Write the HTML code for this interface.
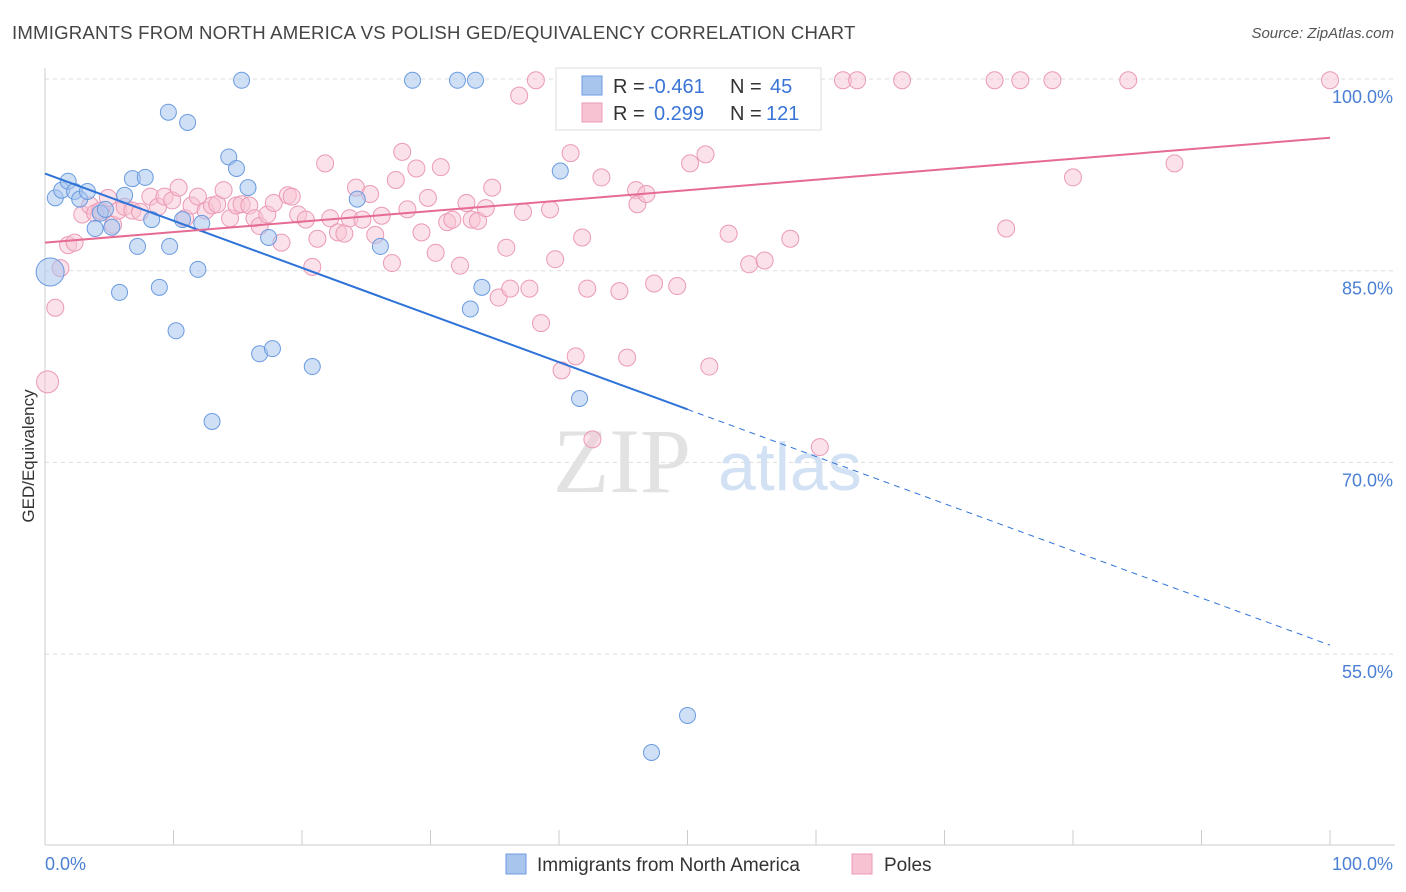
<!DOCTYPE html>
<html><head><meta charset="utf-8"><style>
body{margin:0;background:#fff;font-family:"Liberation Sans",sans-serif;}
#wrap{position:relative;width:1406px;height:892px;overflow:hidden;}
.t{position:absolute;white-space:nowrap;}
</style></head><body>
<div id="wrap">
<div class="t" style="left:12px;top:22px;font-size:18.6px;color:#444;letter-spacing:0.2px;">IMMIGRANTS FROM NORTH AMERICA VS POLISH GED/EQUIVALENCY CORRELATION CHART</div>
<div class="t" style="right:12px;top:25px;font-size:15px;color:#555;font-style:italic;">Source: ZipAtlas.com</div>
<svg id="svg" width="1406" height="892" style="position:absolute;left:0;top:0"></svg>
</div>
<script>
const blueX=[0.4,0.8,1.3,1.8,2.3,2.7,3.3,3.9,4.3,4.7,5.2,5.8,6.2,6.8,7.2,7.8,8.3,8.9,9.6,9.7,10.2,10.7,11.1,11.9,12.2,13.0,14.3,14.9,15.3,15.8,16.7,17.4,17.7,20.8,24.3,26.1,28.6,32.1,33.5,33.1,34.0,40.1,41.6,50.0,47.2];
const blueY=[84.9,90.7,91.3,92.0,91.2,90.6,91.2,88.3,89.5,89.8,88.4,83.3,90.9,92.2,86.9,92.3,89.0,83.7,97.4,86.9,80.3,89.0,96.6,85.1,88.7,73.2,93.9,93.0,99.9,91.5,78.5,87.6,78.9,77.5,90.6,86.9,99.9,99.9,99.9,82.0,83.7,92.8,75.0,50.2,47.3];
const pinkX=[0.2,0.8,1.2,1.8,2.3,2.9,3.5,3.9,4.3,4.9,5.3,5.7,6.2,6.8,7.4,8.2,8.8,9.3,9.9,10.4,10.9,11.4,11.9,12.5,13.0,13.4,13.9,14.4,14.9,15.3,15.9,16.3,16.7,17.3,17.8,18.4,18.9,19.2,19.7,20.3,20.8,21.2,21.8,22.2,22.8,23.3,23.7,24.2,24.7,25.3,25.7,26.2,27.0,27.3,27.8,28.2,28.9,29.3,29.8,30.4,30.8,31.3,31.7,32.3,32.8,33.2,33.7,34.3,34.8,35.3,35.9,36.2,36.9,37.2,37.7,38.2,38.6,39.3,39.7,40.2,40.9,41.3,41.8,42.2,42.6,43.3,44.7,45.3,46.0,46.1,46.8,47.4,47.9,49.2,50.2,51.0,51.4,51.7,53.2,54.1,54.8,55.3,56.0,58.0,60.3,62.1,63.2,66.7,73.9,75.9,78.4,74.8,80.0,84.3,87.9,100,48.8,49.4,54.4];
const pinkY=[76.3,82.1,85.2,87.0,87.2,89.4,90.1,89.5,89.7,90.7,88.6,89.7,90.0,89.7,89.6,90.8,90.0,90.8,90.5,91.5,89.1,90.1,90.8,89.7,90.1,90.2,91.3,89.1,90.1,90.2,90.1,89.1,88.5,89.4,90.3,87.2,90.9,90.8,89.4,89.0,85.3,87.5,93.4,89.1,88.0,87.9,89.1,91.5,89.0,91.0,87.8,89.3,85.6,92.1,94.3,89.8,93.0,88.0,90.7,86.4,93.1,88.8,89.0,85.4,90.3,89.0,88.9,89.9,91.5,82.9,86.8,83.6,98.7,89.6,83.6,99.9,80.9,89.8,85.9,77.2,94.2,78.3,87.6,83.6,71.8,92.3,83.4,78.2,91.3,90.2,91.0,84.0,99.9,83.8,93.4,99.9,94.1,77.5,87.9,99.9,85.5,99.9,85.8,87.5,71.2,99.9,99.9,99.9,99.9,99.9,99.9,88.3,92.3,99.9,93.4,99.9,99.9,99.9,97.4];
const yTicks=[100,85,70,55];
const xTickLabels=["0.0%","100.0%"];
const blueTrend=[92.6,55.7];
const pinkTrend=[87.2,95.4];

const NS="http://www.w3.org/2000/svg",svg=document.getElementById('svg');
const X=v=>45+v*12.85, Y=v=>79+(100-v)*12.78;
function mk(tag,a,p){const e=document.createElementNS(NS,tag);for(const k in a)e.setAttribute(k,a[k]);(p||svg).appendChild(e);return e;}
yTicks.forEach(t=>{
 const l=mk('line',{x1:45,x2:1395,y1:Y(t),y2:Y(t),stroke:'#ddd','stroke-dasharray':'4,4'});
 
 
 const tx=mk('text',{x:1393,y:Y(t)+24,'text-anchor':'end','font-size':18,fill:'#4a7fd4'});tx.textContent=t.toFixed(1)+'%';
 
 
});
mk('line',{x1:45,x2:45,y1:68,y2:845,stroke:'#ccc'});
mk('line',{x1:45,x2:1395,y1:845,y2:845,stroke:'#ccc'});
for(let i=0;i<=10;i++){mk('line',{x1:X(i*10),x2:X(i*10),y1:830,y2:845,stroke:'#ccc'});}
const xl=mk('text',{x:45,y:870,'font-size':18,fill:'#4a7fd4'});xl.textContent=xTickLabels[0];


const xr=mk('text',{x:1393,y:870,'text-anchor':'end','font-size':18,fill:'#4a7fd4'});xr.textContent=xTickLabels[1];


const yt=mk('text',{x:34,y:456,'text-anchor':'middle','font-size':17,fill:'#333',transform:'rotate(-90 34 456)'});yt.textContent='GED/Equivalency';


const w1=mk('text',{x:553,y:492,'font-size':92,fill:'#e2e2e2','font-family':'Liberation Serif'});w1.textContent='ZIP';


const w2=mk('text',{x:718,y:490,'font-size':68,fill:'#d3e1f5'});w2.textContent='atlas';


pinkX.forEach((x,i)=>{const c=mk('circle',{cx:X(x),cy:Y(pinkY[i]),r:i==0?11:8.5,fill:'#f7c3d3','fill-opacity':0.5,stroke:'#eb9ab5','stroke-width':1});
 
 });
blueX.forEach((x,i)=>{const c=mk('circle',{cx:X(x),cy:Y(blueY[i]),r:i==0?14:8,fill:'#a8c5ee','fill-opacity':0.55,stroke:'#6a9be0','stroke-width':1});
 
 });
const bt=(v)=>blueTrend[0]+(blueTrend[1]-blueTrend[0])*v/100;
const b1=mk('line',{x1:X(0),y1:Y(bt(0)),x2:X(50),y2:Y(bt(50)),stroke:'#2f73d8','stroke-width':2});


const b2=mk('line',{x1:X(50),y1:Y(bt(50)),x2:X(100),y2:Y(bt(100)),stroke:'#2f73d8','stroke-width':1,'stroke-dasharray':'6,5'});


const p1=mk('line',{x1:X(0),y1:Y(pinkTrend[0]),x2:X(100),y2:Y(pinkTrend[1]),stroke:'#e66b93','stroke-width':2});


const g=mk('g',{});


mk('rect',{x:556,y:68,width:265,height:62,fill:'#fff',stroke:'#ddd'},g);
mk('rect',{x:582,y:76,width:20,height:19,fill:'#a8c5ee',stroke:'#6a9be0'},g);
mk('rect',{x:582,y:103,width:20,height:19,fill:'#f7c3d3',stroke:'#eb9ab5'},g);
function tt(x,y,s,c){const e=mk('text',{x:x,y:y,'font-size':20,fill:c},g);e.textContent=s;return e;}
tt(613,93,'R =','#333');tt(648,93,'-0.461','#3a74d6');tt(730,93,'N =','#333');tt(770,93,'45','#3a74d6');
tt(613,120,'R =','#333');tt(654,120,'0.299','#3a74d6');tt(730,120,'N =','#333');tt(766,120,'121','#3a74d6');
mk('rect',{x:506,y:854,width:20,height:20,fill:'#a8c5ee',stroke:'#6a9be0'});
const l1=mk('text',{x:537,y:871,'font-size':19,fill:'#333'});l1.textContent='Immigrants from North America';


mk('rect',{x:852,y:854,width:20,height:20,fill:'#f7c3d3',stroke:'#eb9ab5'});
const l2=mk('text',{x:884,y:871,'font-size':19,fill:'#333'});l2.textContent='Poles';


</script>
</body></html>
